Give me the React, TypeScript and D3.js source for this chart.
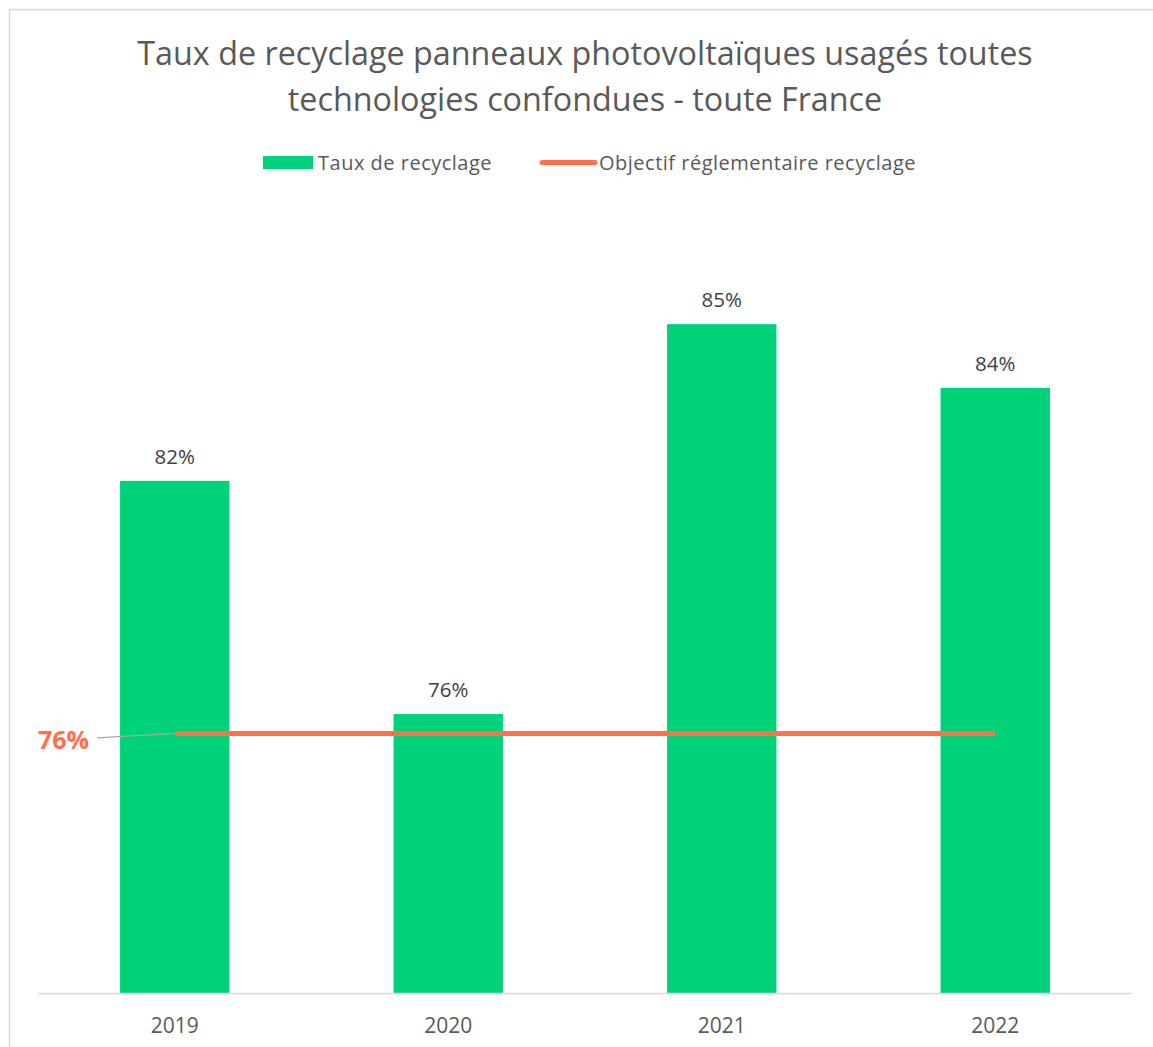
import React, { useEffect, useRef } from 'react';
import * as d3 from 'd3';

const years = ['2019', '2020', '2021', '2022'];
const recyclingRates = [0.8164, 0.7634, 0.852, 0.8375];
const regulatoryTarget = 0.759;
const titleLines = [
  'Taux de recyclage panneaux photovoltaïques usagés toutes',
  'technologies confondues - toute France',
];
const seriesNames = ['Taux de recyclage', 'Objectif réglementaire recyclage'];

const GREEN = '#00D27A';
const ORANGE = '#FF7148';
const FONT = '"Open Sans", sans-serif';

export default function App() {
  const ref = useRef<SVGSVGElement>(null);

  useEffect(() => {
    const svg = d3.select(ref.current);
    svg.selectAll('*').remove();

    const W = 1153, H = 1047;
    const plot = { left: 38, right: 1132, top: 113, bottom: 993 };

    // chart frame
    svg.append('rect')
      .attr('x', 9.5).attr('y', 9.5)
      .attr('width', 1160).attr('height', 1060)
      .attr('fill', '#fff')
      .attr('stroke', '#d9d9d9').attr('stroke-width', 1.5);

    // title
    svg.append('g').selectAll('text')
      .data(titleLines)
      .enter()
      .append('text')
        .attr('x', 585)
        .attr('y', (d, i) => 65 + i * 46)
        .attr('text-anchor', 'middle')
        .attr('font-family', FONT)
        .attr('font-size', 32.3)
        .attr('fill', '#595959')
        .text(d => d);

    var x = d3.scaleBand()
      .domain(years)
      .range([plot.left, plot.right])
      .paddingInner(0.6)
      .paddingOuter(0.3);

    var y = d3.scaleLinear()
      .domain([0.70, 0.90])
      .range([plot.bottom, plot.top]);

    // bars
    svg.append('g').selectAll('rect')
      .data(recyclingRates)
      .enter()
      .append('rect')
        .attr('x', (d, i) => x(years[i]))
        .attr('y', d => y(d))
        .attr('width', x.bandwidth())
        .attr('height', d => plot.bottom - y(d))
        .attr('fill', GREEN);

    // data labels
    svg.append('g').selectAll('text')
      .data(recyclingRates)
      .enter()
      .append('text')
        .attr('x', (d, i) => x(years[i]) + x.bandwidth() / 2)
        .attr('y', d => y(d) - 17)
        .attr('text-anchor', 'middle')
        .attr('font-family', FONT)
        .attr('font-size', 20.5)
        .attr('fill', '#404040')
        .text(d => d3.format('.0%')(d));

    // x axis
    svg.append('line')
      .attr('x1', plot.left).attr('x2', plot.right)
      .attr('y1', plot.bottom + 0.5).attr('y2', plot.bottom + 0.5)
      .attr('stroke', '#d9d9d9').attr('stroke-width', 1.5);

    svg.append('g').selectAll('text')
      .data(years)
      .enter()
      .append('text')
        .attr('x', d => x(d) + x.bandwidth() / 2)
        .attr('y', plot.bottom + 40)
        .attr('text-anchor', 'middle')
        .attr('font-family', FONT)
        .attr('font-size', 21)
        .attr('fill', '#595959')
        .text(d => d);

    // regulatory target line
    const first = x(years[0]) + x.bandwidth() / 2;
    const last = x(years[years.length - 1]) + x.bandwidth() / 2;
    svg.append('line')
      .attr('x1', first).attr('x2', last)
      .attr('y1', y(regulatoryTarget)).attr('y2', y(regulatoryTarget))
      .attr('stroke', ORANGE).attr('stroke-width', 5);

    // leader line + label
    svg.append('line')
      .attr('x1', 97).attr('x2', first)
      .attr('y1', y(regulatoryTarget) + 4.5).attr('y2', y(regulatoryTarget))
      .attr('stroke', '#a6a6a6').attr('stroke-width', 1.2);

    svg.append('text')
      .attr('x', 89)
      .attr('y', y(regulatoryTarget) + 16)
      .attr('text-anchor', 'end')
      .attr('font-family', FONT)
      .attr('font-weight', 'bold')
      .attr('font-size', 25)
      .attr('fill', ORANGE)
      .text(d3.format('.0%')(regulatoryTarget));

    // legend
    const legend = svg.append('g');
    legend.append('rect')
      .attr('x', 263).attr('y', 156)
      .attr('width', 50).attr('height', 13)
      .attr('fill', GREEN);
    legend.append('text')
      .attr('x', 318).attr('y', 169.5)
      .attr('font-family', FONT).attr('font-size', 20)
      .attr('letter-spacing', 0.5)
      .attr('fill', '#595959')
      .text(seriesNames[0]);
    legend.append('line')
      .attr('x1', 542).attr('x2', 595)
      .attr('y1', 162.5).attr('y2', 162.5)
      .attr('stroke', ORANGE).attr('stroke-width', 5)
      .attr('stroke-linecap', 'round');
    legend.append('text')
      .attr('x', 599).attr('y', 169.5)
      .attr('font-family', FONT).attr('font-size', 20)
      .attr('letter-spacing', 0.5)
      .attr('fill', '#595959')
      .text(seriesNames[1]);

    svg.attr('width', W).attr('height', H);
  }, []);

  return (
    <svg ref={ref} style={{ position: 'absolute', left: 0, top: 0, display: 'block' }} />
  );
}
